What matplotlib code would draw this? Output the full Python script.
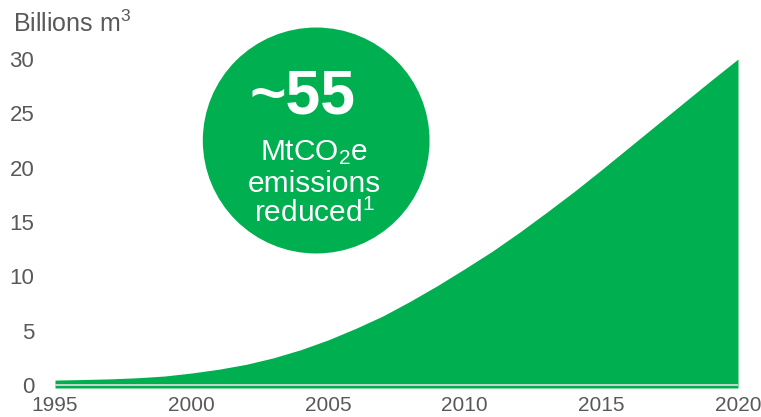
import matplotlib
matplotlib.use('Agg')
import matplotlib.pyplot as plt
from matplotlib.patches import Ellipse


# ========================== CONFIG ==========================
FIGSIZE = (7.61, 4.17)
DPI = 100

GREEN = '#00AF50'
TEXT_GRAY = '#595959'
BASE_LINE_COLOR = '#D9D9D9'
FONT = 'Liberation Sans'
Y_TICK_SIZE = 16
X_TICK_SIZE = 15
# ===========================================================

# Data (billions m3 per year)
years = [1995, 1996, 1997, 1998, 1999, 2000, 2001, 2002, 2003, 2004,
         2005, 2006, 2007, 2008, 2009, 2010, 2011, 2012, 2013, 2014,
         2015, 2016, 2017, 2018, 2019, 2020]
volumes = [0.45, 0.5, 0.56, 0.66, 0.82, 1.1, 1.45, 1.9, 2.5, 3.25,
           4.15, 5.2, 6.35, 7.7, 9.15, 10.7, 12.3, 14.05, 15.9, 17.8,
           19.8, 21.85, 23.9, 25.95, 28.0, 30.0]

x_ticks = [1995, 2000, 2005, 2010, 2015, 2020]
y_ticks = [0, 5, 10, 15, 20, 25, 30]

unit_label = 'Billions m$^3$'
headline = '~55'
callout_lines = ['MtCO$_2$e', 'emissions', 'reduced$^1$']

plt.rcParams['font.family'] = FONT
plt.rcParams['mathtext.fontset'] = 'custom'
plt.rcParams['mathtext.rm'] = FONT
plt.rcParams['mathtext.it'] = FONT
plt.rcParams['mathtext.bf'] = FONT + ':bold'

fig = plt.figure(figsize=FIGSIZE, dpi=DPI)
ax = fig.add_axes([55 / 761, (417 - 388) / 417, (738 - 55) / 761, 338 / 417])

y_floor = -0.28
ax.fill_between(years, y_floor, volumes, color=GREEN, linewidth=0)
ax.axhline(0, color=BASE_LINE_COLOR, linewidth=1.3, zorder=3)

ax.set_xlim(1995, 2020)
ax.set_ylim(y_floor, 30.83)
ax.set_xticks(x_ticks)
ax.set_yticks(y_ticks)
ax.tick_params(axis='both', length=0, labelcolor=TEXT_GRAY)
ax.tick_params(axis='y', pad=15, labelsize=Y_TICK_SIZE)
ax.tick_params(axis='x', pad=6, labelsize=X_TICK_SIZE)
for spine in ax.spines.values():
    spine.set_visible(False)

# Green call-out circle (drawn in data units so it stays round on screen)
circle = Ellipse((2004.56, 22.5), width=2 * 4.15, height=2 * 10.4,
                 color=GREEN, linewidth=0, zorder=4, clip_on=False)
ax.add_patch(circle)

fig.text(302 / 761, 1 - 113 / 417, headline, ha='center', va='baseline',
         fontsize=45, fontweight='bold', color='white', zorder=5)
for line, base_y in zip(callout_lines, [160, 192, 222]):
    fig.text(314 / 761, 1 - base_y / 417, line, ha='center', va='baseline',
             fontsize=21.5, color='white', zorder=5)

fig.text(13 / 761, 1 - 32 / 417, unit_label, ha='left', va='baseline',
         fontsize=18, color=TEXT_GRAY)

fig.savefig('out.png', dpi=DPI)
